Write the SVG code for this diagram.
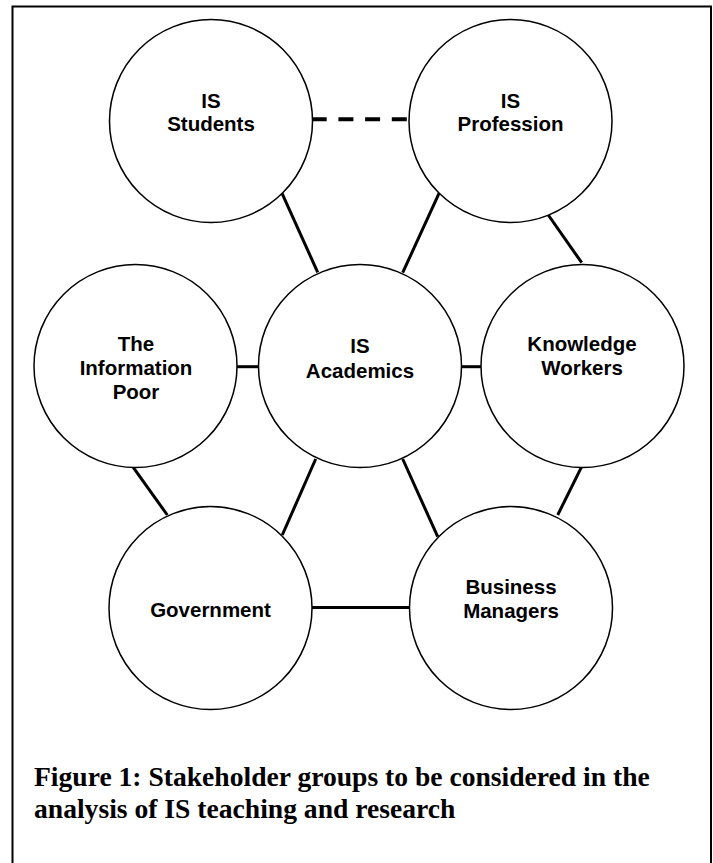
<svg xmlns="http://www.w3.org/2000/svg" width="713" height="863" viewBox="0 0 713 863">
  <style>
    .frame { fill: none; stroke: #000; stroke-width: 2; }
    .node circle { fill: #fff; stroke: #000; stroke-width: 1.5; }
    .node text { font-family: "Liberation Sans", Arial, sans-serif; font-weight: bold; font-size: 20.5px; text-anchor: middle; fill: #000; }
    .link { stroke: #000; stroke-width: 3; fill: none; }
    .dashed { stroke-width: 4; stroke-dasharray: 15 11.7; }
    .caption { font-family: "Liberation Serif", "Times New Roman", serif; font-weight: bold; font-size: 27.6px; fill: #000; }
  </style>

  <rect width="713" height="863" fill="#fff"/>
  <!-- outer frame, open at the bottom edge -->
  <rect class="frame" x="12.5" y="6.5" width="698.5" height="880"/>

  <g id="connectors">
    <line class="link dashed" x1="311.7" y1="119.3" x2="408.5" y2="119.3"/>
    <line class="link" x1="281.7" y1="192.7" x2="317.7" y2="272.3"/>
    <line class="link" x1="439" y1="193.3" x2="402.7" y2="272.7"/>
    <line class="link" x1="548.3" y1="215" x2="581.7" y2="262.7"/>
    <line class="link" x1="237" y1="366.7" x2="259" y2="366.7"/>
    <line class="link" x1="461" y1="366.7" x2="481.5" y2="366.7"/>
    <line class="link" x1="132.7" y1="466.7" x2="167.3" y2="515"/>
    <line class="link" x1="315.7" y1="459" x2="282.3" y2="535"/>
    <line class="link" x1="402.7" y1="459" x2="437.7" y2="536.7"/>
    <line class="link" x1="581.7" y1="466.7" x2="557.7" y2="515"/>
    <line class="link" x1="311" y1="607.5" x2="410" y2="607.5"/>
  </g>

  <g id="is-students" class="node">
    <circle cx="211" cy="121" r="101.5"/>
    <text x="211" y="107.5">IS</text>
    <text x="211" y="131">Students</text>
  </g>

  <g id="is-profession" class="node">
    <circle cx="510.5" cy="121" r="101.5"/>
    <text x="510.5" y="107.5">IS</text>
    <text x="510.5" y="131">Profession</text>
  </g>

  <g id="information-poor" class="node">
    <circle cx="135.5" cy="366" r="101.5"/>
    <text x="136" y="351">The</text>
    <text x="136" y="375">Information</text>
    <text x="136" y="399">Poor</text>
  </g>

  <g id="is-academics" class="node">
    <circle cx="360" cy="366" r="101.5"/>
    <text x="360" y="353">IS</text>
    <text x="360" y="377.5">Academics</text>
  </g>

  <g id="knowledge-workers" class="node">
    <circle cx="582.5" cy="366" r="101.5"/>
    <text x="582" y="351">Knowledge</text>
    <text x="582" y="375">Workers</text>
  </g>

  <g id="government" class="node">
    <circle cx="210.5" cy="608" r="101.5"/>
    <text x="210.5" y="617">Government</text>
  </g>

  <g id="business-managers" class="node">
    <circle cx="511" cy="608" r="101.5"/>
    <text x="511" y="594">Business</text>
    <text x="511" y="617.5">Managers</text>
  </g>

  <g id="caption">
    <text class="caption" x="34" y="786">Figure 1: Stakeholder groups to be considered in the</text>
    <text class="caption" x="34" y="818">analysis of IS teaching and research</text>
  </g>
</svg>
